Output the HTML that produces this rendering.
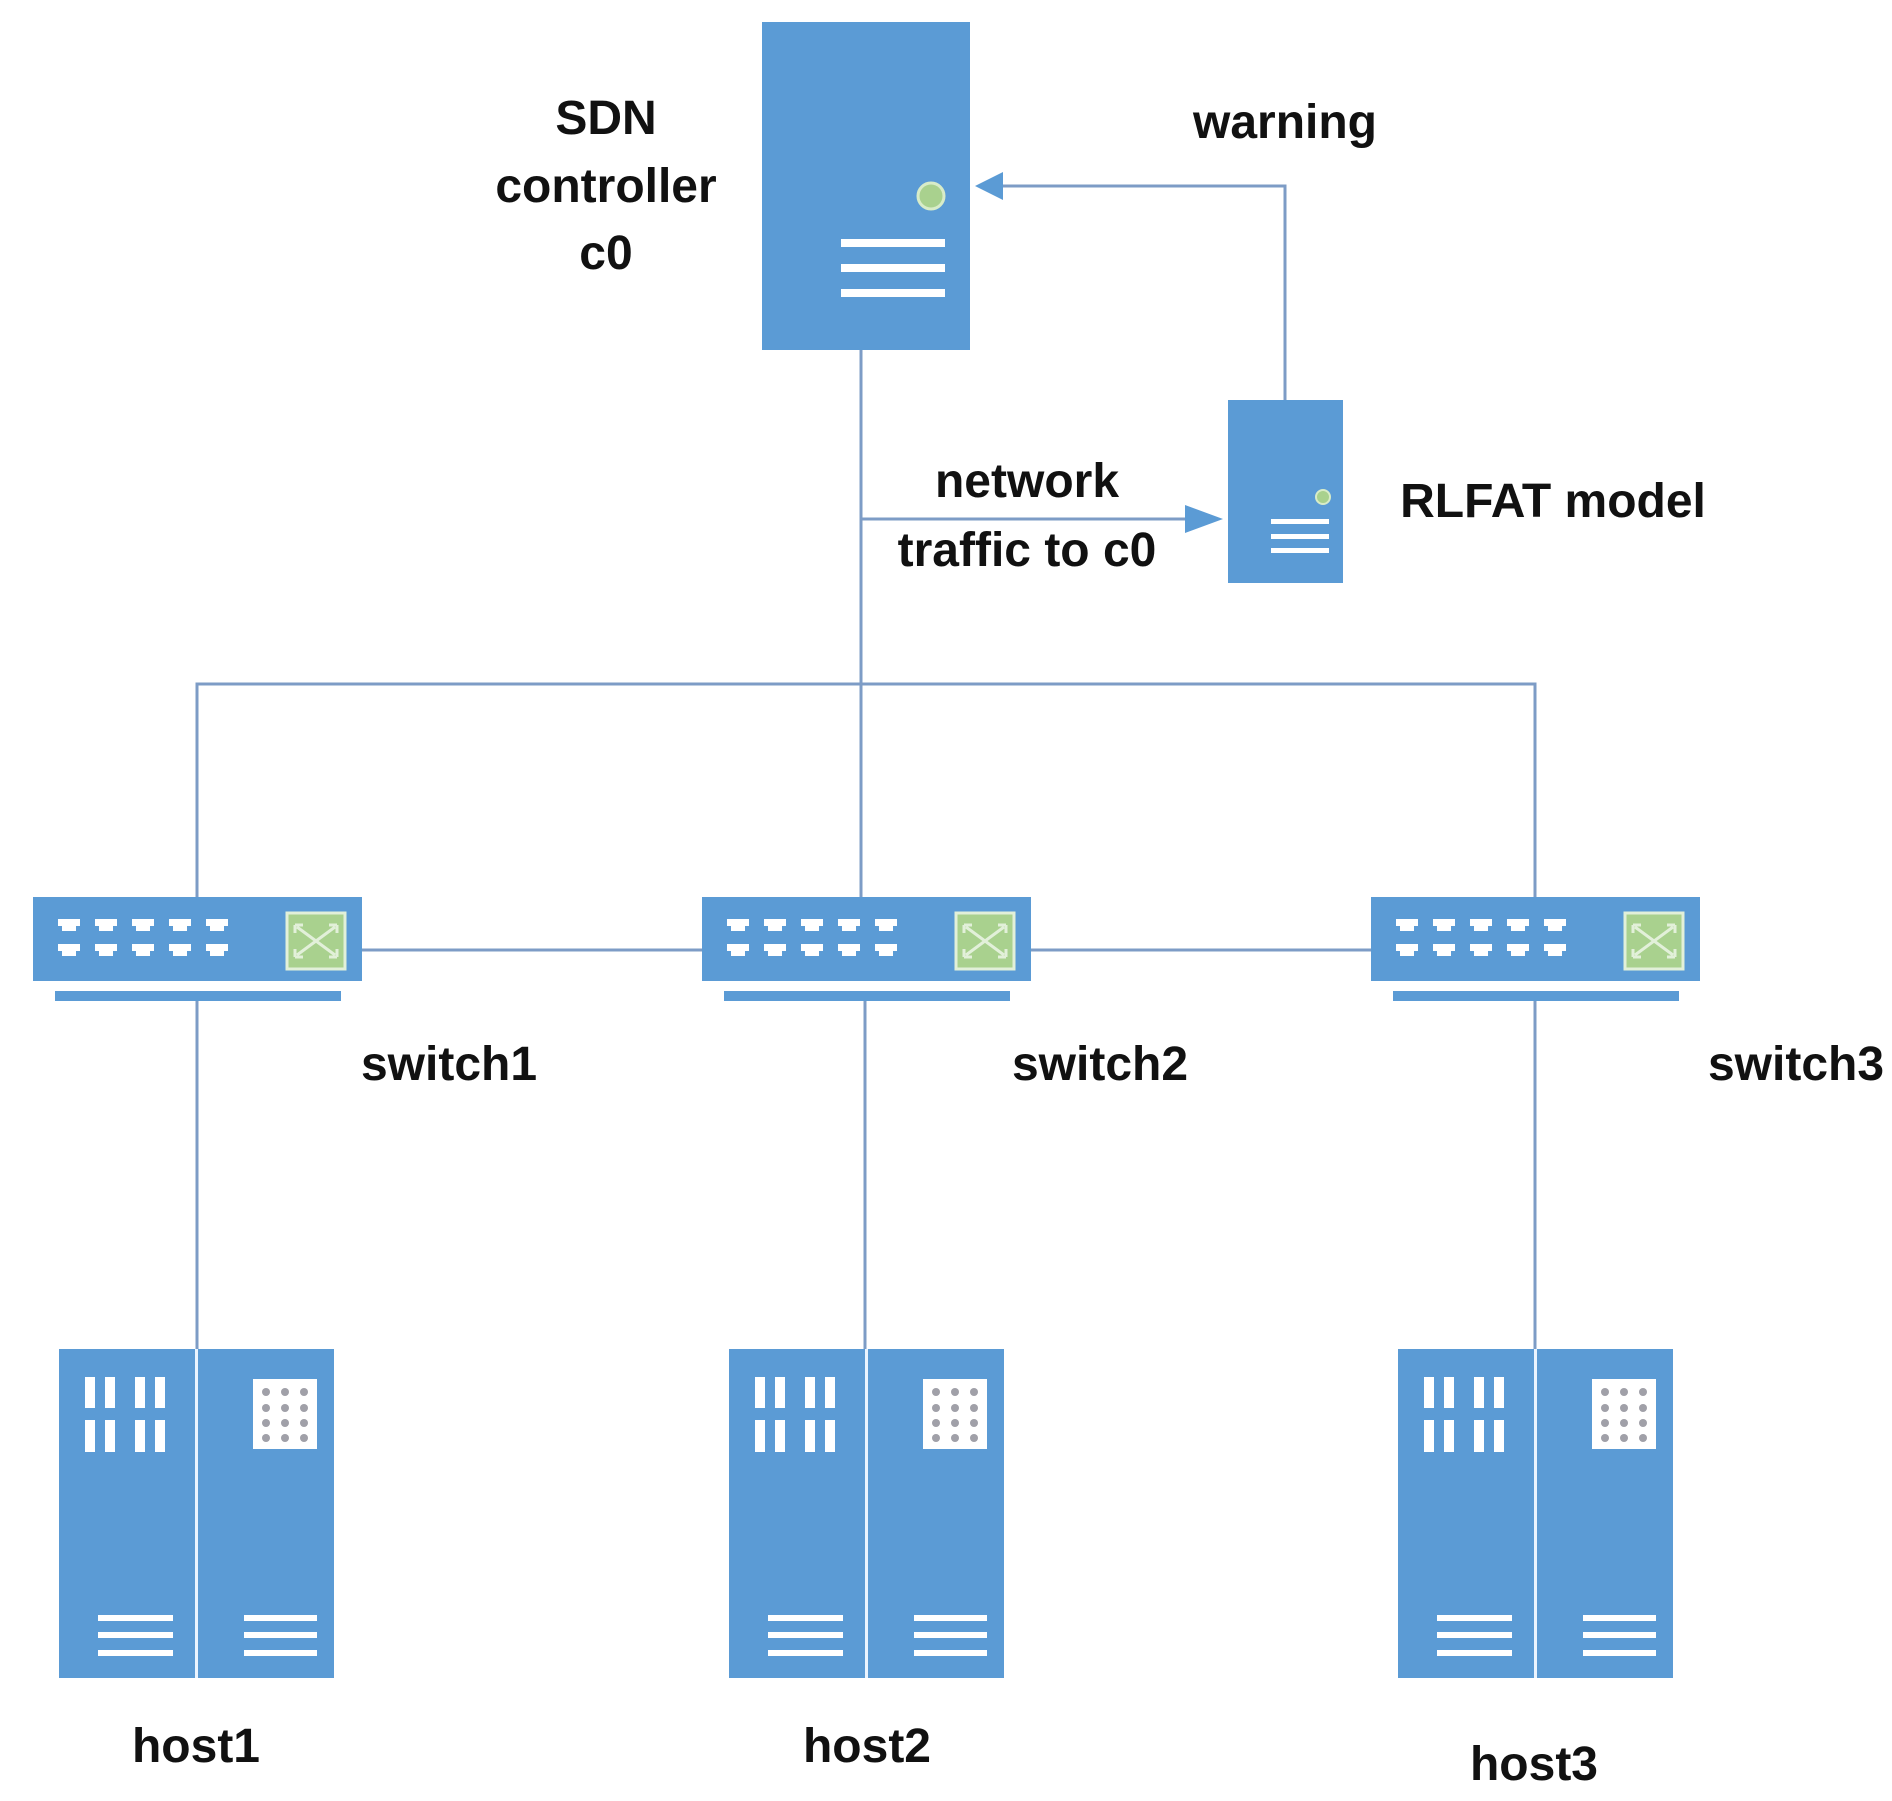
<!DOCTYPE html>
<html><head><meta charset="utf-8"><style>
html,body{margin:0;padding:0;background:#fff;}
svg{display:block;}
text{font-family:"Liberation Sans",sans-serif;font-weight:bold;font-size:48px;fill:#111;text-anchor:middle;}
</style></head><body>
<svg width="1892" height="1801" viewBox="0 0 1892 1801" xmlns="http://www.w3.org/2000/svg">
<defs>
<g id="sw">
  <rect x="0" y="0" width="329" height="84" fill="#5b9bd5"/>
  <rect x="22" y="94" width="286" height="10" fill="#5b9bd5"/>
  <g fill="#fff">
    <g id="pp"><path d="M25 22h22v7h-4v5h-14v-5h-4z"/><path d="M25 47h22v7h-4v5h-14v-5h-4z"/></g>
    <use href="#pp" x="37"/><use href="#pp" x="74"/><use href="#pp" x="111"/><use href="#pp" x="148"/>
  </g>
  <rect x="254" y="16" width="58" height="56" fill="#a9d18e" stroke="#e2f0d9" stroke-width="3"/>
  <path d="M264 30 L302 58 M264 58 L302 30 M262 28h8 M262 28v8 M304 28h-8 M304 28v8 M262 60h8 M262 60v-8 M304 60h-8 M304 60v-8" stroke="#e2f0d9" stroke-width="3" fill="none"/>
</g>
<g id="host">
  <rect x="0" y="0" width="275" height="329" fill="#5b9bd5"/>
  <rect x="136" y="0" width="3" height="329" fill="#eaf4ff"/>
  <g fill="#fff">
    <rect x="26" y="28" width="10" height="31"/><rect x="46" y="28" width="10" height="31"/>
    <rect x="76" y="28" width="10" height="31"/><rect x="96" y="28" width="10" height="31"/>
    <rect x="26" y="71" width="10" height="32"/><rect x="46" y="71" width="10" height="32"/>
    <rect x="76" y="71" width="10" height="32"/><rect x="96" y="71" width="10" height="32"/>
    <rect x="194" y="30" width="64" height="70"/>
    <rect x="39" y="266" width="75" height="6"/><rect x="39" y="283" width="75" height="6"/><rect x="39" y="301" width="75" height="6"/>
    <rect x="185" y="266" width="73" height="6"/><rect x="185" y="283" width="73" height="6"/><rect x="185" y="301" width="73" height="6"/>
  </g>
  <g fill="#a0a0a8">
    <circle cx="207" cy="43" r="4"/><circle cx="226" cy="43" r="4"/><circle cx="245" cy="43" r="4"/>
    <circle cx="207" cy="59" r="4"/><circle cx="226" cy="59" r="4"/><circle cx="245" cy="59" r="4"/>
    <circle cx="207" cy="74" r="4"/><circle cx="226" cy="74" r="4"/><circle cx="245" cy="74" r="4"/>
    <circle cx="207" cy="89" r="4"/><circle cx="226" cy="89" r="4"/><circle cx="245" cy="89" r="4"/>
  </g>
</g>
</defs>
<g stroke="#7d9cc6" stroke-width="3" fill="none">
  <path d="M861 350V899"/>
  <path d="M861 519H1190"/>
  <path d="M1285 400V186H1000"/>
  <path d="M197 899V684H1535V899"/>
  <path d="M362 950H702 M1030 950H1371"/>
  <path d="M197 1000V1349 M865 1000V1349 M1535 1000V1349"/>
</g>
<path d="M1223 519 L1185 505 L1185 533Z" fill="#5b9bd5"/>
<path d="M975 186 L1003 172 L1003 200Z" fill="#5b9bd5"/>
<rect x="762" y="22" width="208" height="328" fill="#5b9bd5"/>
<circle cx="931" cy="196" r="13" fill="#a9d18e" stroke="#d8ecc8" stroke-width="3"/>
<rect x="841" y="239" width="104" height="8" fill="#fff"/>
<rect x="841" y="264" width="104" height="8" fill="#fff"/>
<rect x="841" y="289" width="104" height="8" fill="#fff"/>
<rect x="1228" y="400" width="115" height="183" fill="#5b9bd5"/>
<circle cx="1323" cy="497" r="7" fill="#a9d18e" stroke="#d8ecc8" stroke-width="2"/>
<rect x="1271" y="519" width="58" height="5" fill="#fff"/>
<rect x="1271" y="534" width="58" height="5" fill="#fff"/>
<rect x="1271" y="548" width="58" height="5" fill="#fff"/>
<use href="#sw" x="33" y="897"/>
<use href="#sw" x="702" y="897"/>
<use href="#sw" x="1371" y="897"/>
<use href="#host" x="59" y="1349"/>
<use href="#host" x="729" y="1349"/>
<use href="#host" x="1398" y="1349"/>
<text x="606" y="134">SDN</text>
<text x="606" y="202">controller</text>
<text x="606" y="269">c0</text>
<text x="1285" y="138">warning</text>
<text x="1027" y="497">network</text>
<text x="1027" y="566">traffic to c0</text>
<text x="1553" y="517">RLFAT model</text>
<text x="449" y="1080">switch1</text>
<text x="1100" y="1080">switch2</text>
<text x="1796" y="1080">switch3</text>
<text x="196" y="1762">host1</text>
<text x="867" y="1762">host2</text>
<text x="1534" y="1780">host3</text>
</svg>
</body></html>
